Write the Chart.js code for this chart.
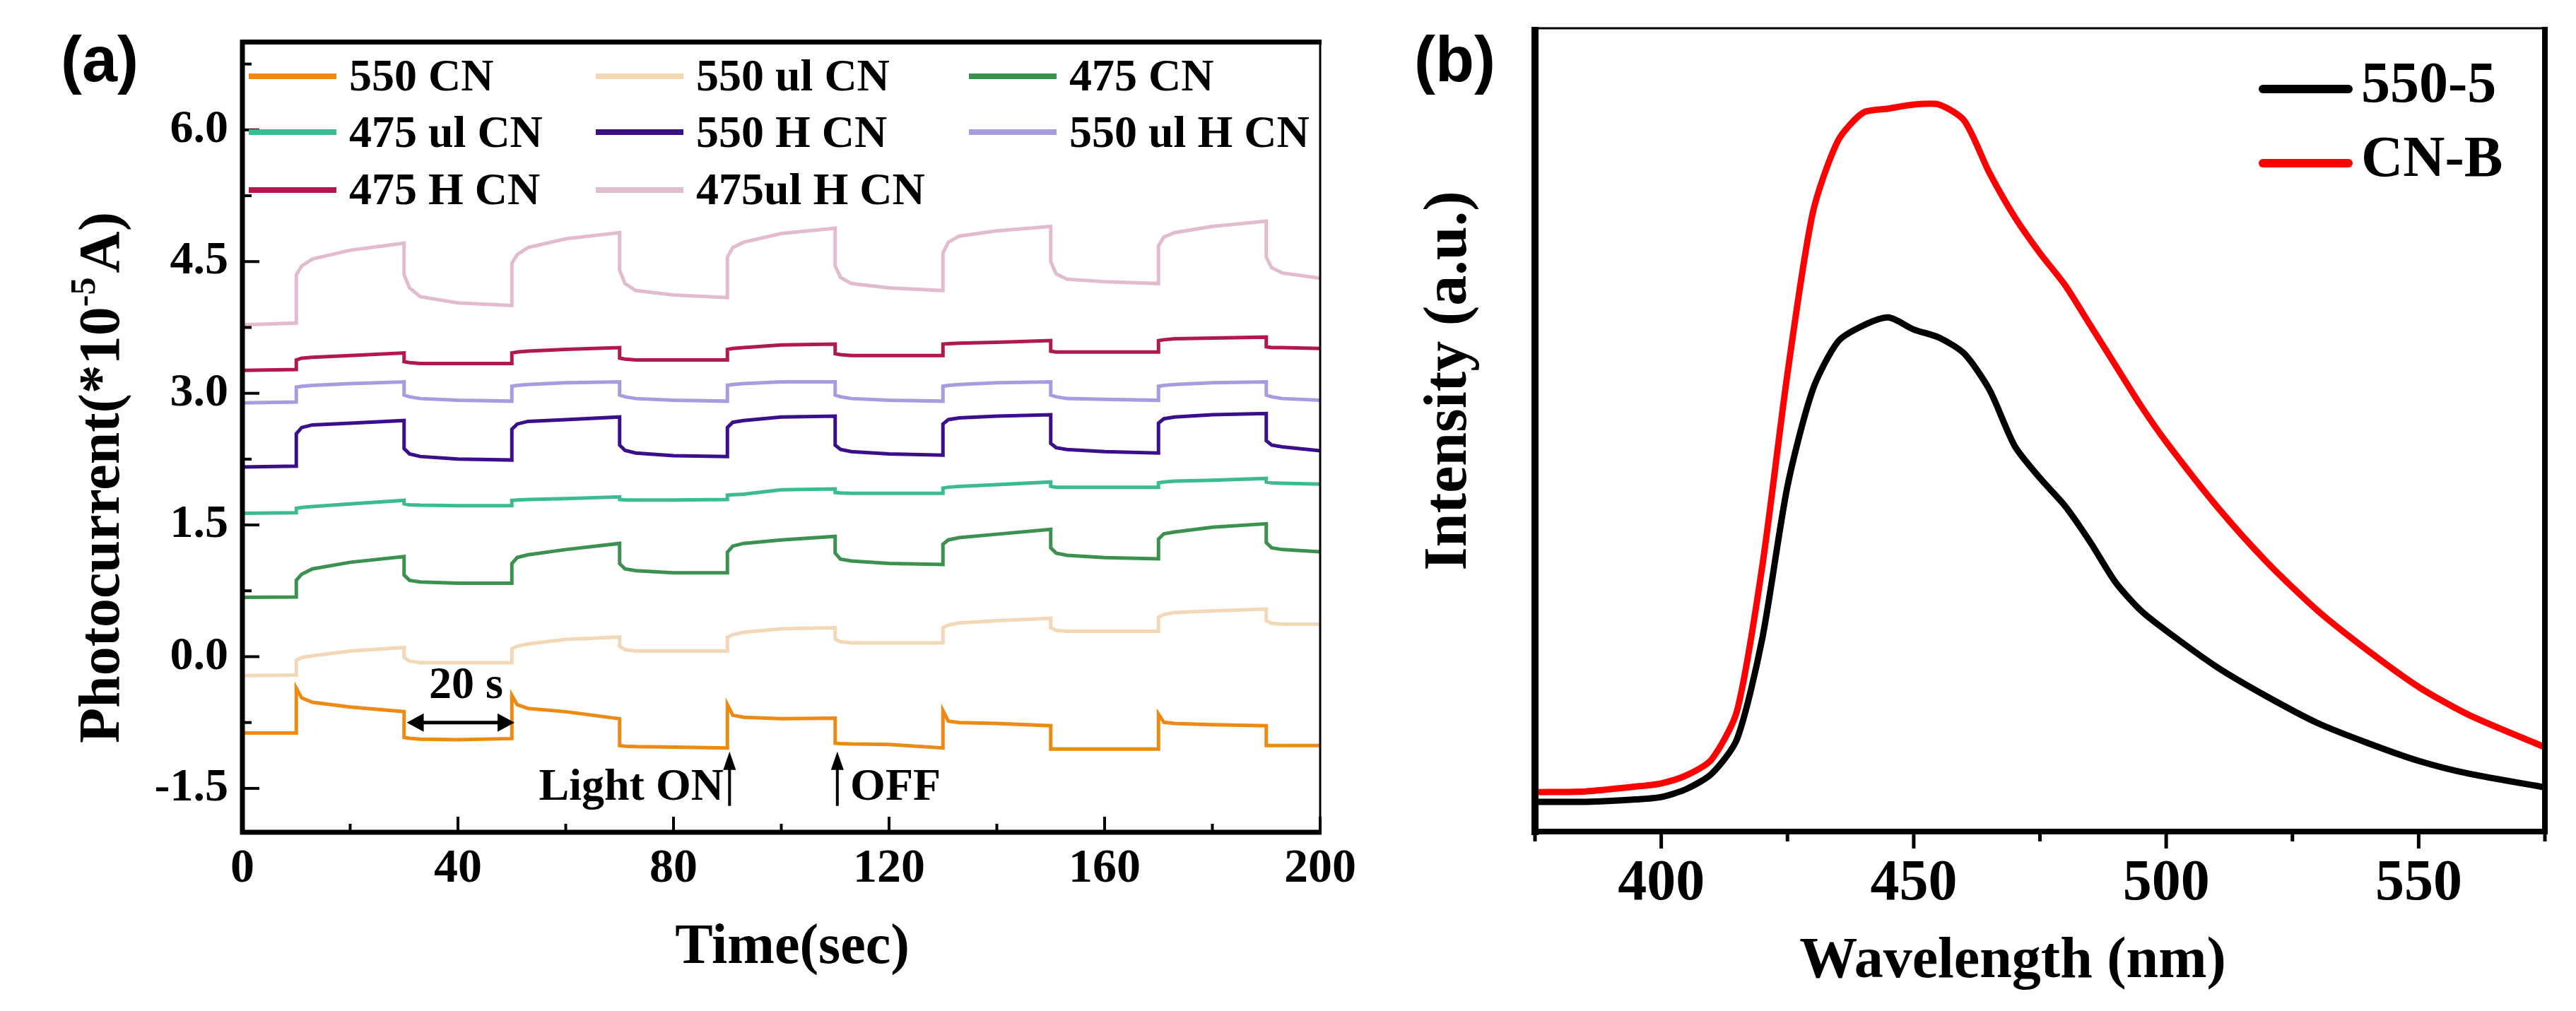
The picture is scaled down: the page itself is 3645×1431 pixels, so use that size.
<!DOCTYPE html>
<html><head><meta charset="utf-8">
<script src="https://cdn.jsdelivr.net/npm/chart.js@4.4.1/dist/chart.umd.min.js"></script>
<style>
html,body{margin:0;padding:0;background:#fff;}
#wrap{position:relative;width:3645px;height:1431px;overflow:hidden;background:#fff;}
#ca{position:absolute;left:0;top:0;}
#cb{position:absolute;left:1950px;top:0;}
</style></head><body>
<div id="wrap">
<canvas id="ca" width="1950" height="1431"></canvas>
<canvas id="cb" width="1695" height="1431"></canvas>
</div>
<script>
// ---------------- Panel (a) data ----------------
const timeSec = [0,
 10,10,11,13,20,
 30,30,31,33,40,
 50,50,51,53,60,
 70,70,71,73,80,
 90,90,91,93,100,
 110,110,111,113,120,
 130,130,131,133,140,
 150,150,151,153,160,
 170,170,171,173,180,
 190,190,191,193,200];

const cn550 = [-0.87,
 -0.87,-0.36,-0.47,-0.52,-0.574,
 -0.627,-0.92,-0.93,-0.94,-0.946,
 -0.933,-0.44,-0.547,-0.59,-0.627,
 -0.707,-1.013,-1.02,-1.025,-1.03,
 -1.04,-0.547,-0.667,-0.69,-0.707,
 -0.70,-0.986,-0.99,-0.995,-1.0,
 -1.04,-0.614,-0.734,-0.75,-0.76,
 -0.787,-1.053,-1.053,-1.053,-1.053,
 -1.053,-0.654,-0.747,-0.76,-0.774,
 -0.787,-1.013,-1.013,-1.013,-1.013];

const ulCn550 = [-0.215,
 -0.21,-0.04,-0.01,0.01,0.064,
 0.104,-0.01,-0.05,-0.069,-0.069,
 -0.069,0.09,0.12,0.144,0.197,
 0.224,0.12,0.08,0.064,0.064,
 0.064,0.22,0.25,0.277,0.317,
 0.33,0.20,0.17,0.157,0.157,
 0.157,0.33,0.36,0.384,0.41,
 0.437,0.33,0.30,0.29,0.29,
 0.29,0.45,0.48,0.503,0.52,
 0.543,0.41,0.38,0.37,0.37];

const cn475 = [0.676,
 0.68,0.87,0.94,1.00,1.075,
 1.14,0.93,0.87,0.85,0.836,
 0.836,1.06,1.13,1.16,1.22,
 1.29,1.06,1.00,0.98,0.955,
 0.955,1.19,1.26,1.29,1.33,
 1.37,1.18,1.11,1.09,1.062,
 1.05,1.28,1.33,1.355,1.395,
 1.45,1.24,1.18,1.155,1.128,
 1.115,1.34,1.40,1.42,1.474,
 1.514,1.30,1.24,1.22,1.195];

const ulCn475 = [1.634,
 1.64,1.69,1.70,1.71,1.74,
 1.78,1.74,1.73,1.725,1.72,
 1.72,1.78,1.785,1.79,1.80,
 1.82,1.79,1.785,1.785,1.785,
 1.79,1.84,1.845,1.85,1.90,
 1.91,1.87,1.865,1.86,1.86,
 1.86,1.92,1.93,1.94,1.96,
 1.99,1.94,1.93,1.93,1.93,
 1.93,1.98,1.99,2.00,2.01,
 2.03,1.99,1.98,1.975,1.965];

const hCn550 = [2.16,
 2.17,2.54,2.61,2.64,2.66,
 2.69,2.37,2.31,2.28,2.25,
 2.24,2.59,2.65,2.68,2.70,
 2.73,2.41,2.35,2.32,2.29,
 2.28,2.61,2.67,2.69,2.73,
 2.74,2.41,2.36,2.335,2.31,
 2.295,2.65,2.70,2.72,2.74,
 2.755,2.43,2.38,2.36,2.335,
 2.32,2.66,2.71,2.73,2.755,
 2.77,2.46,2.41,2.39,2.345];

const ulHCn550 = [2.89,
 2.90,3.07,3.08,3.09,3.11,
 3.13,2.98,2.96,2.94,2.92,
 2.91,3.08,3.09,3.10,3.12,
 3.13,2.98,2.96,2.94,2.92,
 2.91,3.09,3.10,3.11,3.13,
 3.13,2.98,2.96,2.94,2.92,
 2.91,3.08,3.09,3.10,3.12,
 3.13,2.98,2.96,2.94,2.93,
 2.92,3.08,3.09,3.10,3.12,
 3.13,2.98,2.96,2.94,2.92];

const hCn475 = [3.26,
 3.27,3.38,3.40,3.41,3.43,
 3.46,3.36,3.35,3.34,3.34,
 3.34,3.46,3.47,3.48,3.50,
 3.52,3.40,3.39,3.38,3.38,
 3.38,3.50,3.51,3.52,3.55,
 3.56,3.45,3.44,3.43,3.43,
 3.43,3.56,3.565,3.57,3.58,
 3.60,3.48,3.47,3.47,3.47,
 3.47,3.60,3.61,3.62,3.63,
 3.64,3.53,3.52,3.52,3.51];

const ulHCn475 = [3.78,
 3.80,4.35,4.45,4.53,4.63,
 4.71,4.35,4.20,4.10,4.03,
 4.00,4.48,4.58,4.66,4.76,
 4.83,4.40,4.25,4.17,4.12,
 4.09,4.55,4.66,4.72,4.82,
 4.88,4.45,4.32,4.25,4.20,
 4.17,4.60,4.72,4.79,4.85,
 4.90,4.50,4.36,4.30,4.27,
 4.25,4.68,4.78,4.83,4.90,
 4.96,4.55,4.43,4.37,4.31];

const seriesNamesA = ['550 CN','550 ul CN','475 CN','475 ul CN','550 H CN','550 ul H CN','475 H CN','475ul H CN'];
const seriesValuesA = [cn550, ulCn550, cn475, ulCn475, hCn550, ulHCn550, hCn475, ulHCn475];
const seriesColorsA = ['#EC8A14','#F2D8B6','#3C9150','#3DBB90','#3B0F8C','#A99BE0','#B01850','#E2BBCF'];

const xTicksA = [0, 40, 80, 120, 160, 200];
const xMinorA = [20, 60, 100, 140, 180];
const yTicksA = [-1.5, 0, 1.5, 3, 4.5, 6];
const yMinorA = [-0.75, 0.75, 2.25, 3.75, 5.25, 6.75];

// ---------------- Panel (b) data ----------------
const wavelength = [375,385,395,400,405,410,415,420,425,430,435,440,445,450,455,460,465,470,475,480,485,490,495,500,510,520,530,540,550,560,575];
const int550_5 = [3.7,3.7,4.0,4.3,5.3,7.2,11.5,24,43,55,61,63,64,62.5,61.5,59.5,55,48,44,40.5,36,31,27.5,25,20.5,16.8,13.5,11,8.8,7.2,5.5];
const intCNB  = [4.9,5.0,5.6,6.0,7.0,9.0,15.0,33,57,77,86,89.5,90,90.5,90.5,88.5,82,76.5,72,68,63,58,53,48.5,40.5,33.5,27.5,22.5,18,14.5,10.5];
const seriesNamesB = ['550-5','CN-B'];
const seriesColorsB = ['#000000','#FF0000'];
const xTicksB = [400, 450, 500, 550];
const xMinorB = [375, 425, 475, 525, 575];

// ---------------- helpers ----------------
const SERIF = "'Liberation Serif','Times New Roman',serif";
const SANS = "'Liberation Sans',Arial,sans-serif";
function ln(ctx,x1,y1,x2,y2){ctx.beginPath();ctx.moveTo(x1,y1);ctx.lineTo(x2,y2);ctx.stroke();}
function arrowHead(ctx,x,y,dir,len,half){
  ctx.beginPath();
  if(dir==='up'){ctx.moveTo(x,y);ctx.lineTo(x-half,y+len);ctx.lineTo(x+half,y+len);}
  if(dir==='left'){ctx.moveTo(x,y);ctx.lineTo(x+len,y-half);ctx.lineTo(x+len,y+half);}
  if(dir==='right'){ctx.moveTo(x,y);ctx.lineTo(x-len,y-half);ctx.lineTo(x-len,y+half);}
  ctx.closePath();ctx.fill();
}

// ---------------- Chart A ----------------
const decoA = {
  id:'decoA',
  afterDraw(chart){
    const ctx = chart.ctx; const a = chart.chartArea; const x = chart.scales.x, y = chart.scales.y;
    ctx.save();
    ctx.strokeStyle='#000'; ctx.fillStyle='#000'; ctx.lineCap='butt';
    ctx.lineWidth=4;
    yTicksA.forEach(v=>{const p=y.getPixelForValue(v); ln(ctx,a.left,p,a.left+24,p);});
    yMinorA.forEach(v=>{const p=y.getPixelForValue(v); ln(ctx,a.left,p,a.left+13,p);});
    xTicksA.forEach(v=>{const p=x.getPixelForValue(v); ln(ctx,p,a.bottom,p,a.bottom-22);});
    xMinorA.forEach(v=>{const p=x.getPixelForValue(v); ln(ctx,p,a.bottom,p,a.bottom-12);});
    ctx.lineWidth=7;
    ln(ctx,a.left-3,a.top,a.right+2,a.top);
    ln(ctx,a.left,a.top-3,a.left,a.bottom+3);
    ln(ctx,a.left-3,a.bottom,a.right+2,a.bottom);
    ctx.lineWidth=3;
    ln(ctx,a.right,a.top,a.right,a.bottom);

    const colLine=[352,843,1371], lineLen=124, rowsLine=[108,187,269], rowsBase=[128,208,289];
    ctx.font = "bold 64px " + SERIF; ctx.textBaseline='alphabetic'; ctx.textAlign='left';
    seriesNamesA.forEach((n,i)=>{
      const c=i%3, r=Math.floor(i/3);
      ctx.strokeStyle=seriesColorsA[i]; ctx.lineWidth=8;
      ln(ctx,colLine[c],rowsLine[r],colLine[c]+lineLen,rowsLine[r]);
      ctx.fillStyle='#000';
      ctx.fillText(n,colLine[c]+lineLen+18,rowsBase[r]);
    });

    ctx.strokeStyle='#000'; ctx.fillStyle='#000';
    ctx.font = "bold 64px " + SERIF; ctx.textBaseline='middle';
    ctx.textAlign='center';
    ctx.fillText('20 s', x.getPixelForValue(41.5), y.getPixelForValue(-0.34));
    const ax1=x.getPixelForValue(30.5), ax2=x.getPixelForValue(50.5), ay=y.getPixelForValue(-0.75);
    ctx.lineWidth=5; ln(ctx,ax1+18,ay,ax2-18,ay);
    arrowHead(ctx,ax1,ay,'left',24,13); arrowHead(ctx,ax2,ay,'right',24,13);
    [90.4,110.4].forEach(t=>{
      const px=x.getPixelForValue(t), tip=y.getPixelForValue(-1.08), tail=y.getPixelForValue(-1.70);
      ctx.lineWidth=4; ln(ctx,px,tip+18,px,tail);
      arrowHead(ctx,px,tip,'up',26,9);
    });
    ctx.textAlign='right';
    ctx.fillText('Light ON', x.getPixelForValue(89.3), y.getPixelForValue(-1.50));
    ctx.textAlign='left';
    ctx.fillText('OFF', x.getPixelForValue(112.8), y.getPixelForValue(-1.50));

    ctx.textAlign='center'; ctx.textBaseline='middle';
    ctx.font = "bold 80px " + SERIF;
    ctx.fillText('Time(sec)', 1121, 1342);
    ctx.save();
    ctx.translate(140, 676); ctx.rotate(-Math.PI/2);
    const big = "bold 82px " + SERIF, small = "bold 50px " + SERIF;
    ctx.font=big; const w1=ctx.measureText('Photocurrent(*10').width, w3=ctx.measureText('A)').width;
    ctx.font=small; const w2=ctx.measureText('-5').width;
    let sx = -(w1+w2+w3+6)/2;
    ctx.textAlign='left'; ctx.textBaseline='alphabetic';
    ctx.font=big; ctx.fillText('Photocurrent(*10', sx, 28); sx+=w1;
    ctx.font=small; ctx.fillText('-5', sx, -6); sx+=w2+6;
    ctx.font=big; ctx.fillText('A)', sx, 28);
    ctx.restore();

    ctx.font = "bold 90px " + SANS; ctx.textAlign='left'; ctx.textBaseline='middle';
    ctx.fillText('(a)', 86, 90);
    ctx.restore();
  }
};

new Chart(document.getElementById('ca'), {
  type:'line',
  data:{
    datasets: seriesValuesA.map((vals,i)=>({
      label: seriesNamesA[i],
      data: timeSec.map((t,k)=>({x:t, y:vals[k]})),
      borderColor: seriesColorsA[i], backgroundColor: seriesColorsA[i],
      borderWidth: 5, pointRadius: 0, tension: 0, fill:false
    }))
  },
  options:{
    responsive:false, animation:false, devicePixelRatio:1,
    layout:{padding:{left:0, top:48, right:82, bottom:0}},
    plugins:{legend:{display:false}, tooltip:{enabled:false}},
    scales:{
      x:{type:'linear', min:0, max:200,
        afterBuildTicks:s=>{s.ticks=xTicksA.map(v=>({value:v}));},
        afterFit:s=>{s.height=253;},
        grid:{display:false, drawTicks:false}, border:{display:false},
        ticks:{color:'#000', font:{family:SERIF, weight:'bold', size:68}, padding:12, maxRotation:0, autoSkip:false, callback:v=>String(v)}},
      y:{type:'linear', min:-2, max:7,
        afterBuildTicks:s=>{s.ticks=yTicksA.map(v=>({value:v}));},
        afterFit:s=>{s.width=343;},
        grid:{display:false, drawTicks:false}, border:{display:false},
        ticks:{color:'#000', font:{family:SERIF, weight:'bold', size:66}, padding:20, autoSkip:false, callback:v=>Number(v).toFixed(1)}}
    }
  },
  plugins:[decoA]
});

// ---------------- Chart B ----------------
const decoB = {
  id:'decoB',
  afterDraw(chart){
    const ctx = chart.ctx; const a = chart.chartArea; const x = chart.scales.x;
    ctx.save();
    ctx.strokeStyle='#000'; ctx.fillStyle='#000'; ctx.lineCap='butt';
    ctx.lineWidth=5;
    xTicksB.forEach(v=>{const p=x.getPixelForValue(v); ln(ctx,p,a.bottom,p,a.bottom+24);});
    xMinorB.forEach(v=>{const p=x.getPixelForValue(v); ln(ctx,p,a.bottom,p,a.bottom+14);});
    ctx.lineWidth=3; ln(ctx,a.left,a.top,a.right,a.top);
    ctx.lineWidth=10; ln(ctx,a.left,a.top-2,a.left,a.bottom+5);
    ctx.lineWidth=8; ln(ctx,a.left-5,a.bottom,a.right+4,a.bottom);
    ln(ctx,a.right,a.top-2,a.right,a.bottom+4);

    const lx1=3202-1950, lx2=3323-1950, tx=3341-1950;
    const lineY=[126,231], baseY=[144,249];
    ctx.font = "bold 82px " + SERIF; ctx.textAlign='left'; ctx.textBaseline='alphabetic';
    seriesNamesB.forEach((n,i)=>{
      ctx.strokeStyle=seriesColorsB[i]; ctx.lineWidth=12; ctx.lineCap='round';
      ln(ctx,lx1,lineY[i],lx2,lineY[i]);
      ctx.fillStyle='#000'; ctx.fillText(n,tx,baseY[i]);
    });
    ctx.lineCap='butt';

    ctx.fillStyle='#000';
    ctx.textAlign='center'; ctx.textBaseline='middle';
    ctx.font = "bold 82px " + SERIF;
    ctx.fillText('Wavelength (nm)', 2848-1950, 1362);
    ctx.save();
    ctx.translate(2052-1950, 539); ctx.rotate(-Math.PI/2);
    ctx.font = "bold 86px " + SERIF;
    ctx.fillText('Intensity (a.u.)', 0, 0);
    ctx.restore();

    ctx.font = "bold 90px " + SANS; ctx.textAlign='left'; ctx.textBaseline='middle';
    ctx.fillText('(b)', 2001-1950, 90);
    ctx.restore();
  }
};

const seriesValuesB = [int550_5, intCNB];
new Chart(document.getElementById('cb'), {
  type:'line',
  data:{
    datasets: seriesValuesB.map((vals,i)=>({
      label: seriesNamesB[i],
      data: wavelength.map((w,k)=>({x:w, y:vals[k]})),
      borderColor: seriesColorsB[i], backgroundColor: seriesColorsB[i],
      borderWidth: 9, pointRadius: 0, tension: 0.25, fill:false
    }))
  },
  options:{
    responsive:false, animation:false, devicePixelRatio:1,
    layout:{padding:{left:0, top:40, right:44, bottom:0}},
    plugins:{legend:{display:false}, tooltip:{enabled:false}},
    scales:{
      x:{type:'linear', min:375, max:575,
        afterBuildTicks:s=>{s.ticks=xTicksB.map(v=>({value:v}));},
        afterFit:s=>{s.height=254;},
        grid:{display:false, drawTicks:false}, border:{display:false},
        ticks:{color:'#000', font:{family:SERIF, weight:'bold', size:82}, padding:26, maxRotation:0, autoSkip:false, callback:v=>String(v)}},
      y:{type:'linear', min:0, max:100,
        afterFit:s=>{s.width=222;},
        grid:{display:false, drawTicks:false}, border:{display:false},
        ticks:{display:false}}
    }
  },
  plugins:[decoB]
});
</script>
</body></html>
